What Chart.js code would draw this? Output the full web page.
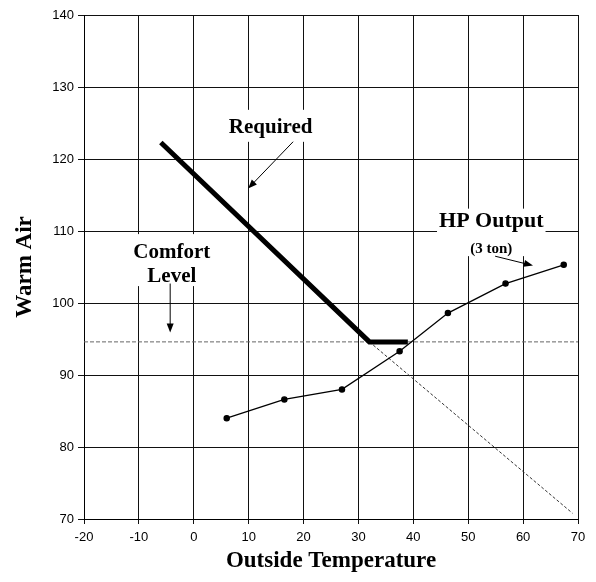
<!DOCTYPE html>
<html>
<head>
<meta charset="utf-8">
<script src="https://cdn.jsdelivr.net/npm/chart.js@4"></script>
<style>
  html, body { margin: 0; padding: 0; background: #fff; }
  #wrap { width: 596px; height: 582px; }
</style>
</head>
<body>
<div id="wrap"><canvas id="myChart"></canvas></div>
<script>
// axis ranges
const xMin = -20, xMax = 70, xStep = 10
const yMin = 70, yMax = 140, yStep = 10

// required warm air (solid, thick) and its dashed continuation
const requiredX = [-6, 32, 39]
const requiredY = [122.3, 94.6, 94.6]
const extendX = [32, 69]
const extendY = [94.6, 70.8]

// comfort level line
const comfortX = [-20, 70]
const comfortY = [94.6, 94.6]

// heat pump output (3 ton)
const hpX = [6, 16.5, 27, 37.5, 46.3, 56.8, 67.4]
const hpY = [84, 86.6, 88, 93.3, 98.6, 102.7, 105.3]

function pts(xs, ys) {
  return xs.map((x, i) => ({ x: x, y: ys[i] }))
}

// text labels and arrows, placed in data units
// pad = [left/right, top, bottom] of the white box behind the text, in px
const notes = [
  { lines: ['Required'], x: 14, y: 124.4, size: [21], gap: 0, pad: [6, 7, 4] },
  { lines: ['Comfort', 'Level'], x: -4, y: 107.0, size: [21, 21], gap: 24, pad: [6, 8, -1] },
  { lines: ['HP Output', '(3 ton)'], x: 54.2, y: 111.3, size: [22, 15], gap: 27, pad: [2, 2, 0] }
]
const arrows = [
  { from: [18.1, 122.4], to: [9.9, 115.9] },
  { from: [-4.3, 102.7], to: [-4.3, 95.9] },
  { from: [54.9, 106.5], to: [61.8, 105.2] }
]

const serif = '"Liberation Serif", "Times New Roman", serif'

const notesPlugin = {
  id: 'notes',
  afterDatasetsDraw(chart) {
    const ctx = chart.ctx
    const xs = chart.scales.x, ys = chart.scales.y
    ctx.save()
    ctx.textAlign = 'center'
    ctx.textBaseline = 'middle'
    notes.forEach(n => {
      const cx = xs.getPixelForValue(n.x)
      const cy = ys.getPixelForValue(n.y)
      let w = 0
      n.lines.forEach((l, i) => {
        ctx.font = 'bold ' + n.size[i] + 'px ' + serif
        w = Math.max(w, ctx.measureText(l).width)
      })
      const last = n.lines.length - 1
      const top = cy - n.size[0] / 2 - n.pad[1]
      const bottom = cy + n.gap * last + n.size[last] / 2 + n.pad[2]
      ctx.fillStyle = '#fff'
      ctx.fillRect(cx - w / 2 - n.pad[0], top, w + n.pad[0] * 2, bottom - top)
      ctx.fillStyle = '#000'
      n.lines.forEach((l, i) => {
        ctx.font = 'bold ' + n.size[i] + 'px ' + serif
        ctx.fillText(l, cx, cy + n.gap * i)
      })
    })
    // arrows
    ctx.strokeStyle = '#000'
    ctx.fillStyle = '#000'
    ctx.lineWidth = 1
    arrows.forEach(a => {
      const x1 = xs.getPixelForValue(a.from[0]), y1 = ys.getPixelForValue(a.from[1])
      const x2 = xs.getPixelForValue(a.to[0]), y2 = ys.getPixelForValue(a.to[1])
      const ang = Math.atan2(y2 - y1, x2 - x1)
      const len = 9, half = 3.5
      ctx.beginPath()
      ctx.moveTo(x1, y1)
      ctx.lineTo(x2 - Math.cos(ang) * len * 0.8, y2 - Math.sin(ang) * len * 0.8)
      ctx.stroke()
      ctx.beginPath()
      ctx.moveTo(x2, y2)
      ctx.lineTo(x2 - Math.cos(ang) * len - Math.sin(ang) * half, y2 - Math.sin(ang) * len + Math.cos(ang) * half)
      ctx.lineTo(x2 - Math.cos(ang) * len + Math.sin(ang) * half, y2 - Math.sin(ang) * len - Math.cos(ang) * half)
      ctx.closePath()
      ctx.fill()
    })
    ctx.restore()
  }
}

const tickFont = { family: '"Liberation Sans", Arial, sans-serif', size: 13 }
const titleFont = { family: serif, size: 23, weight: 'bold' }

const config = {
  type: 'scatter',
  data: {
    datasets: [{
      label: 'Comfort Level',
      data: pts(comfortX, comfortY),
      showLine: true,
      borderColor: '#666',
      borderWidth: 1,
      borderDash: [4, 2],
      pointRadius: 0,
      order: 4
    }, {
      label: 'Required (extended)',
      data: pts(extendX, extendY),
      showLine: true,
      borderColor: '#333',
      borderWidth: 1,
      borderDash: [3, 2],
      pointRadius: 0,
      order: 3
    }, {
      label: 'Required',
      data: pts(requiredX, requiredY),
      showLine: true,
      borderColor: '#000',
      borderWidth: 5,
      borderCapStyle: 'butt',
      borderJoinStyle: 'miter',
      pointRadius: 0,
      order: 2
    }, {
      label: 'HP Output (3 ton)',
      data: pts(hpX, hpY),
      showLine: true,
      borderColor: '#000',
      borderWidth: 1.3,
      pointRadius: 2.6,
      pointBackgroundColor: '#000',
      pointBorderColor: '#000',
      order: 1
    }]
  },
  options: {
    responsive: true,
    maintainAspectRatio: false,
    animation: false,
    layout: { padding: { top: 15, right: 18, left: 0, bottom: 0 } },
    plugins: {
      legend: { display: false },
      tooltip: { enabled: false }
    },
    scales: {
      x: {
        type: 'linear',
        min: xMin,
        max: xMax,
        afterFit: s => { s.height = 63 },
        ticks: { stepSize: xStep, color: '#000', font: tickFont, padding: 6 },
        grid: { color: '#111', lineWidth: 1, tickLength: 5 },
        border: { color: '#000' },
        title: { display: true, text: 'Outside Temperature', color: '#000', font: titleFont, padding: { top: 0, bottom: 7 } }
      },
      y: {
        type: 'linear',
        min: yMin,
        max: yMax,
        afterFit: s => { s.width = 84 },
        ticks: { stepSize: yStep, color: '#000', font: tickFont, padding: 4 },
        grid: { color: '#111', lineWidth: 1, tickLength: 6 },
        border: { color: '#000' },
        title: { display: true, text: 'Warm Air', color: '#000', font: titleFont, padding: { top: 11, bottom: 0 } }
      }
    }
  },
  plugins: [notesPlugin]
}

const myChart = new Chart(document.getElementById('myChart'), config)
</script>
</body>
</html>
